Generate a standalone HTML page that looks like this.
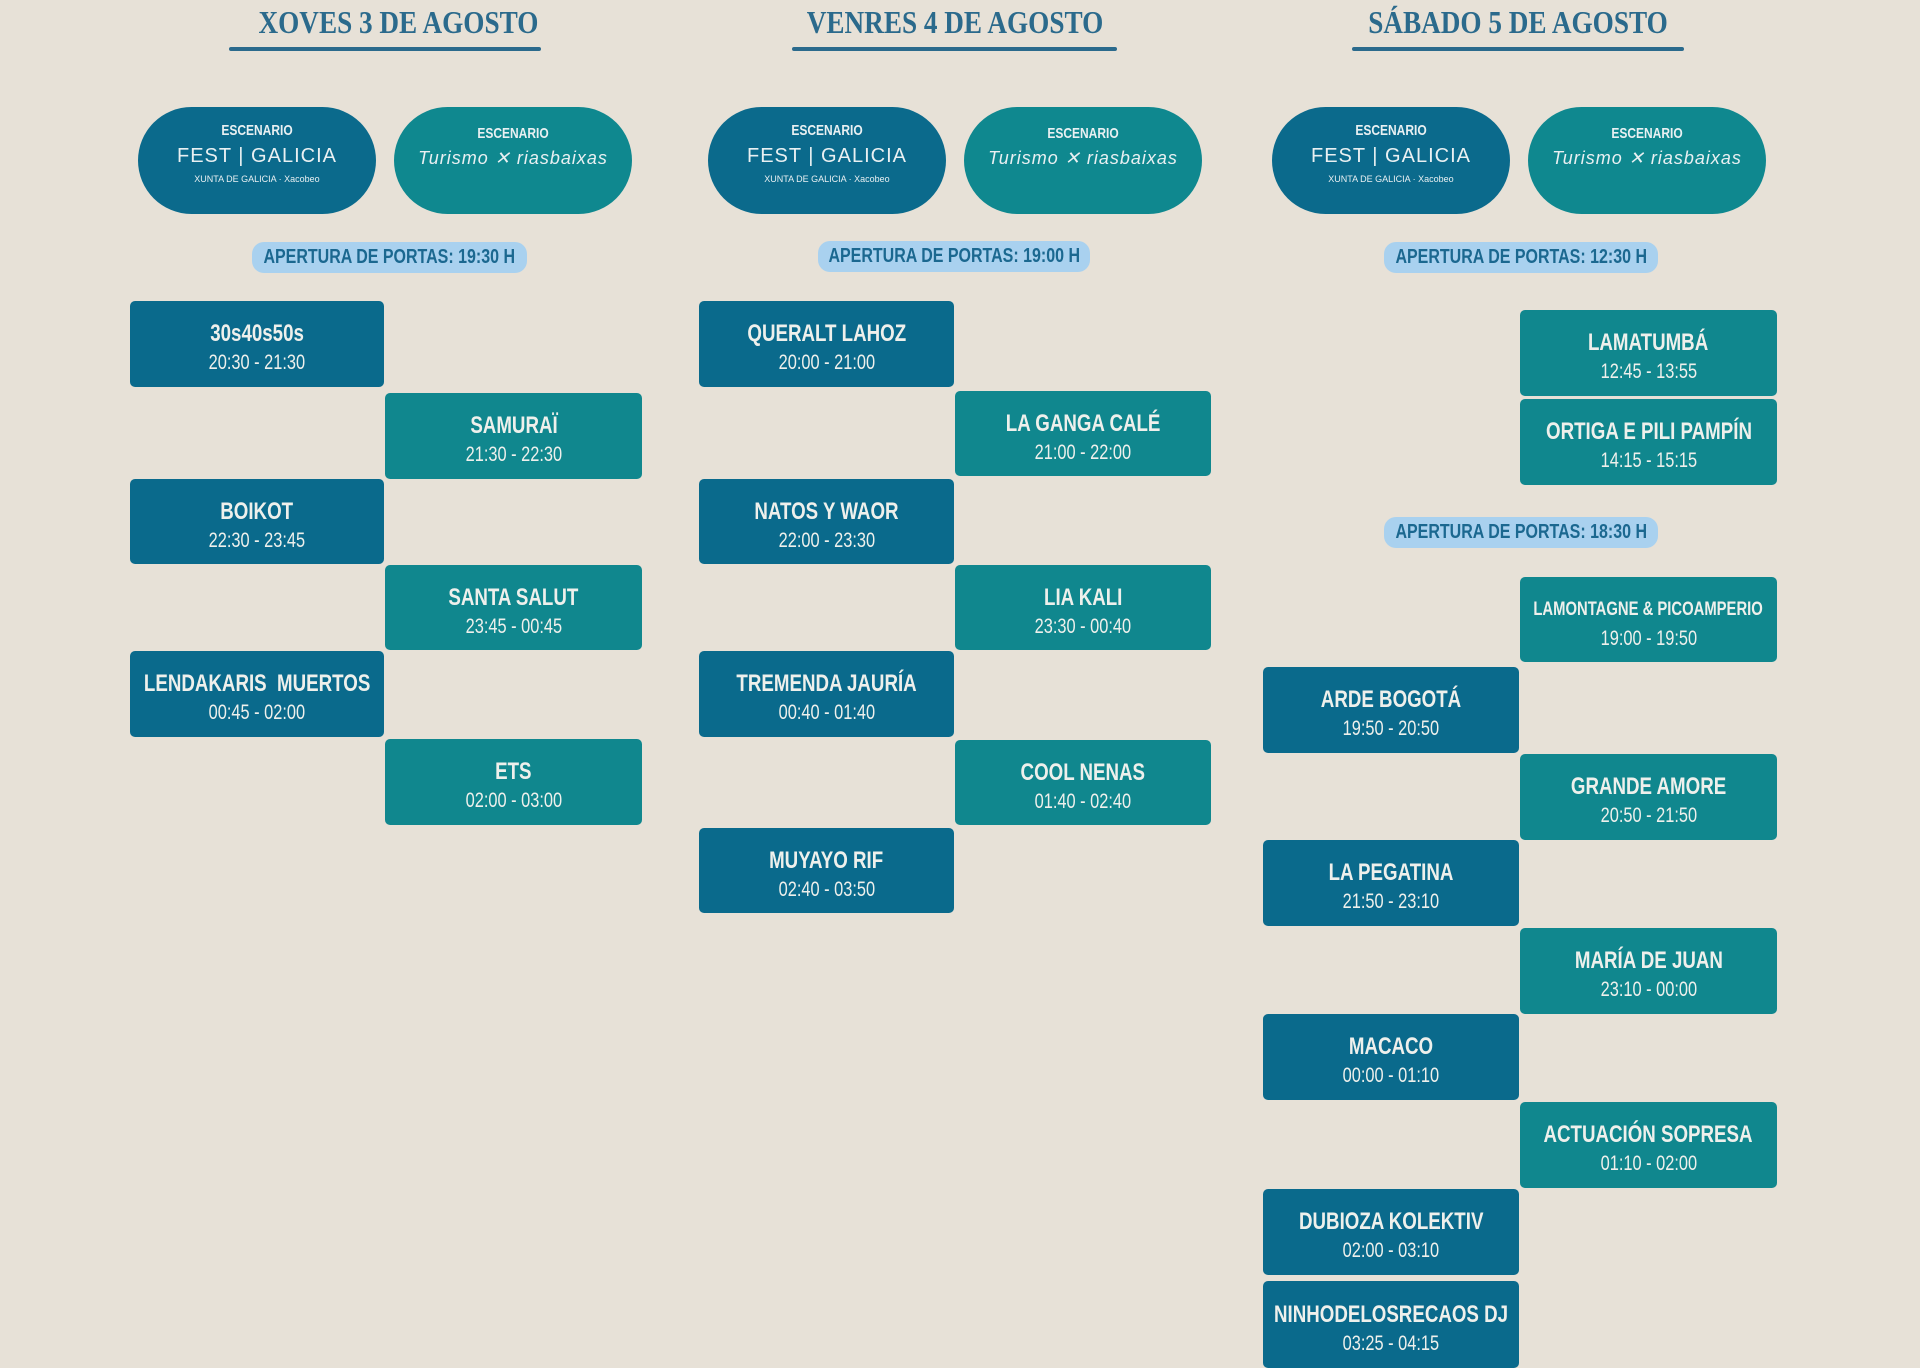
<!DOCTYPE html>
<html><head><meta charset="utf-8"><style>
body{margin:0;width:1920px;height:1368px;background:#e7e1d7;position:relative;overflow:hidden;font-family:"Liberation Sans",sans-serif}
.t{position:absolute;top:0;height:44px;line-height:44px;text-align:center;font-family:"Liberation Serif",serif;font-weight:bold;font-size:32px;color:#2b6a8c;white-space:nowrap;transform:scaleX(.85)}
.u{position:absolute;top:47px;height:4px;background:#2b6a8c;border-radius:2px}
.p{position:absolute;top:107px;width:238px;height:107px;border-radius:54px;color:#e9f0f2;text-align:center;white-space:nowrap}
.p.d{background:#0b6a8c}.p.g{background:#0f888f}
.p .e{font-weight:bold;font-size:15px;margin-top:15px;transform:scaleX(.8)}
.p .l{font-size:20px;margin-top:6px;letter-spacing:1px}
.p .s{font-size:9px;margin-top:6px}
.a{position:absolute;height:31px;line-height:31px;border-radius:12px;background:#a9d1ef;color:#1b6890;font-weight:bold;font-size:20px;display:flex;justify-content:center;white-space:nowrap}
.a span{display:block;flex:none;transform:scaleX(.8)}
.b{position:absolute;box-sizing:border-box;padding-top:9px;border-radius:5px;color:#eef0ec;display:flex;flex-direction:column;justify-content:center;align-items:center;white-space:nowrap}
.b>div{flex:none;transform:scaleX(.78)}
.b.d{background:#0a6a8c}.b.g{background:#10878e}
.b .n{font-weight:bold;font-size:24px;line-height:28px}
.b .h{font-size:21px;line-height:29px}
</style></head><body>
<div class="t" style="left:236px;width:300px">XOVES 3 DE AGOSTO</div>
<div class="u" style="left:229px;width:312px"></div>
<div class="t" style="left:780px;width:350px">VENRES 4 DE AGOSTO</div>
<div class="u" style="left:792px;width:325px"></div>
<div class="t" style="left:1340px;width:356px">SÁBADO 5 DE AGOSTO</div>
<div class="u" style="left:1352px;width:332px"></div>

<div class="p d" style="left:138px"><div class="e">ESCENARIO</div><div class="l">FEST | GALICIA</div><div class="s">XUNTA DE GALICIA · Xacobeo</div></div>
<div class="p g" style="left:394px"><div class="e" style="margin-top:18px">ESCENARIO</div><div class="l" style="font-style:italic;font-size:18px">Turismo ✕ riasbaixas</div></div>
<div class="p d" style="left:708px"><div class="e">ESCENARIO</div><div class="l">FEST | GALICIA</div><div class="s">XUNTA DE GALICIA · Xacobeo</div></div>
<div class="p g" style="left:964px"><div class="e" style="margin-top:18px">ESCENARIO</div><div class="l" style="font-style:italic;font-size:18px">Turismo ✕ riasbaixas</div></div>
<div class="p d" style="left:1272px"><div class="e">ESCENARIO</div><div class="l">FEST | GALICIA</div><div class="s">XUNTA DE GALICIA · Xacobeo</div></div>
<div class="p g" style="left:1528px"><div class="e" style="margin-top:18px">ESCENARIO</div><div class="l" style="font-style:italic;font-size:18px">Turismo ✕ riasbaixas</div></div>

<div class="a" style="left:252px;top:242px;width:275px"><span>APERTURA DE PORTAS: 19:30 H</span></div>
<div class="a" style="left:818px;top:241px;width:272px"><span>APERTURA DE PORTAS: 19:00 H</span></div>
<div class="a" style="left:1384px;top:242px;width:274px"><span>APERTURA DE PORTAS: 12:30 H</span></div>
<div class="a" style="left:1384px;top:517px;width:274px"><span>APERTURA DE PORTAS: 18:30 H</span></div>

<div class="b d" style="left:130px;top:301px;width:254px;height:86px"><div class="n">30s40s50s</div><div class="h">20:30 - 21:30</div></div>
<div class="b g" style="left:385px;top:393px;width:257px;height:86px"><div class="n">SAMURAÏ</div><div class="h">21:30 - 22:30</div></div>
<div class="b d" style="left:130px;top:479px;width:254px;height:85px"><div class="n">BOIKOT</div><div class="h">22:30 - 23:45</div></div>
<div class="b g" style="left:385px;top:565px;width:257px;height:85px"><div class="n">SANTA SALUT</div><div class="h">23:45 - 00:45</div></div>
<div class="b d" style="left:130px;top:651px;width:254px;height:86px"><div class="n">LENDAKARIS&nbsp; MUERTOS</div><div class="h">00:45 - 02:00</div></div>
<div class="b g" style="left:385px;top:739px;width:257px;height:86px"><div class="n">ETS</div><div class="h">02:00 - 03:00</div></div>

<div class="b d" style="left:699px;top:301px;width:255px;height:86px"><div class="n">QUERALT LAHOZ</div><div class="h">20:00 - 21:00</div></div>
<div class="b g" style="left:955px;top:391px;width:256px;height:85px"><div class="n">LA GANGA CALÉ</div><div class="h">21:00 - 22:00</div></div>
<div class="b d" style="left:699px;top:479px;width:255px;height:85px"><div class="n">NATOS Y WAOR</div><div class="h">22:00 - 23:30</div></div>
<div class="b g" style="left:955px;top:565px;width:256px;height:85px"><div class="n">LIA KALI</div><div class="h">23:30 - 00:40</div></div>
<div class="b d" style="left:699px;top:651px;width:255px;height:86px"><div class="n">TREMENDA JAURÍA</div><div class="h">00:40 - 01:40</div></div>
<div class="b g" style="left:955px;top:740px;width:256px;height:85px"><div class="n">COOL NENAS</div><div class="h">01:40 - 02:40</div></div>
<div class="b d" style="left:699px;top:828px;width:255px;height:85px"><div class="n">MUYAYO RIF</div><div class="h">02:40 - 03:50</div></div>

<div class="b g" style="left:1520px;top:310px;width:257px;height:86px"><div class="n">LAMATUMBÁ</div><div class="h">12:45 - 13:55</div></div>
<div class="b g" style="left:1520px;top:399px;width:257px;height:86px"><div class="n">ORTIGA E PILI PAMPÍN</div><div class="h">14:15 - 15:15</div></div>
<div class="b g" style="left:1520px;top:577px;width:257px;height:85px"><div class="n" style="font-size:19px">LAMONTAGNE &amp; PICOAMPERIO</div><div class="h">19:00 - 19:50</div></div>
<div class="b d" style="left:1263px;top:667px;width:256px;height:86px"><div class="n">ARDE BOGOTÁ</div><div class="h">19:50 - 20:50</div></div>
<div class="b g" style="left:1520px;top:754px;width:257px;height:86px"><div class="n">GRANDE AMORE</div><div class="h">20:50 - 21:50</div></div>
<div class="b d" style="left:1263px;top:840px;width:256px;height:86px"><div class="n">LA PEGATINA</div><div class="h">21:50 - 23:10</div></div>
<div class="b g" style="left:1520px;top:928px;width:257px;height:86px"><div class="n">MARÍA DE JUAN</div><div class="h">23:10 - 00:00</div></div>
<div class="b d" style="left:1263px;top:1014px;width:256px;height:86px"><div class="n">MACACO</div><div class="h">00:00 - 01:10</div></div>
<div class="b g" style="left:1520px;top:1102px;width:257px;height:86px"><div class="n">ACTUACIÓN SOPRESA</div><div class="h">01:10 - 02:00</div></div>
<div class="b d" style="left:1263px;top:1189px;width:256px;height:86px"><div class="n">DUBIOZA KOLEKTIV</div><div class="h">02:00 - 03:10</div></div>
<div class="b d" style="left:1263px;top:1281px;width:256px;height:87px"><div class="n">NINHODELOSRECAOS DJ</div><div class="h">03:25 - 04:15</div></div>
</body></html>
